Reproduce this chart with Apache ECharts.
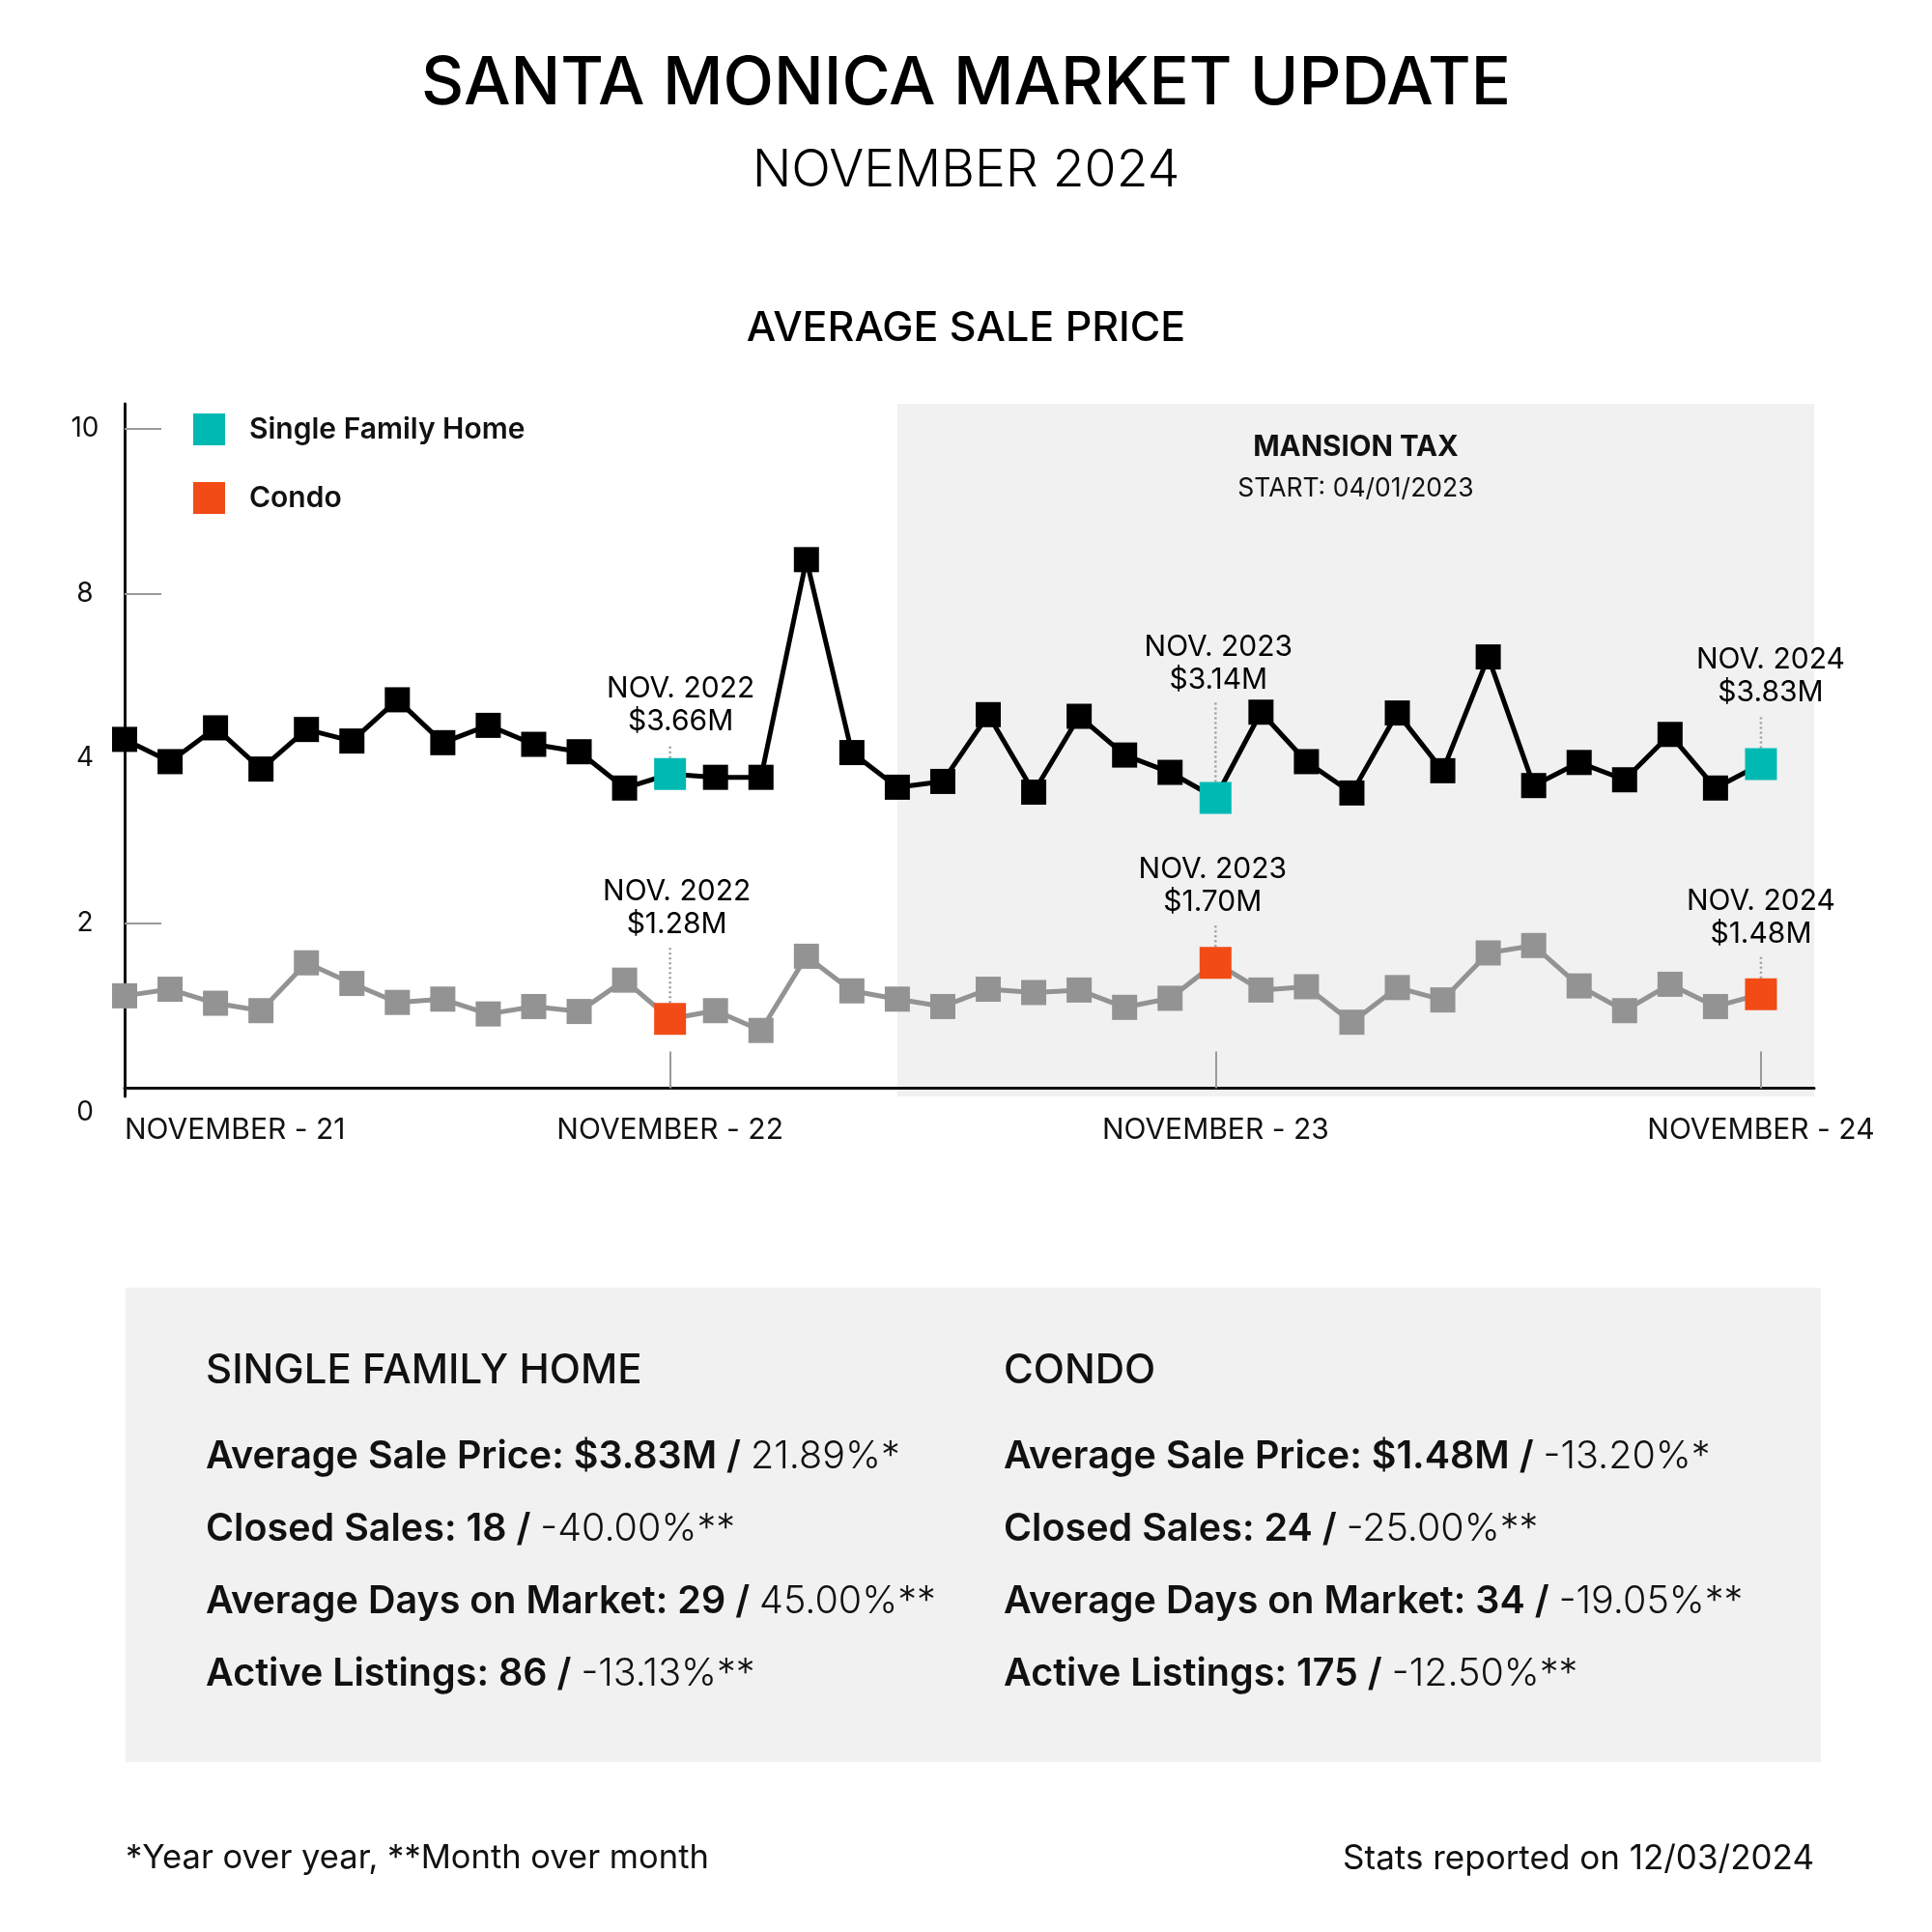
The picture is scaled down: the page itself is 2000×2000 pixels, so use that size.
<!DOCTYPE html>
<html>
<head>
<meta charset="utf-8">
<script src="https://cdn.jsdelivr.net/npm/echarts@6/dist/echarts.min.js"></script>
<style>html,body{margin:0;padding:0;background:#fff}#c{width:2000px;height:2000px}</style>
</head>
<body>
<div id="c"></div>
<script>
// ---------- DATA ----------
const months = ['Nov 21','Dec 21','Jan 22','Feb 22','Mar 22','Apr 22','May 22','Jun 22','Jul 22','Aug 22','Sep 22','Oct 22',
  'Nov 22','Dec 22','Jan 23','Feb 23','Mar 23','Apr 23','May 23','Jun 23','Jul 23','Aug 23','Sep 23','Oct 23',
  'Nov 23','Dec 23','Jan 24','Feb 24','Mar 24','Apr 24','May 24','Jun 24','Jul 24','Aug 24','Sep 24','Oct 24','Nov 24'];
// values as plotted (millions)
const sfhPrice = [4.23,3.96,4.37,3.87,4.35,4.21,4.71,4.19,4.40,4.17,4.08,3.64,3.81,3.77,3.77,6.41,4.07,3.65,3.72,4.53,3.59,4.51,4.04,3.83,3.52,4.56,3.96,3.58,4.55,3.85,5.23,3.67,3.95,3.74,4.29,3.64,3.93];
const condoPrice = [1.12,1.20,1.03,0.94,1.52,1.27,1.04,1.08,0.90,0.99,0.93,1.31,0.84,0.94,0.70,1.60,1.18,1.08,0.99,1.20,1.16,1.19,0.98,1.09,1.52,1.19,1.23,0.80,1.22,1.07,1.64,1.73,1.24,0.94,1.26,0.99,1.14];
const xTickIndex = [0, 12, 24, 36];
const xTickLabels = ['NOVEMBER - 21', 'NOVEMBER - 22', 'NOVEMBER - 23', 'NOVEMBER - 24'];
const yTickValues = [0, 2, 4, 6, 8];
const yTickLabels = ['0', '2', '4', '8', '10'];
const yTickMarks = [2, 6, 8];
const novIdx = [12, 24, 36];
const novNames = ['NOV. 2022', 'NOV. 2023', 'NOV. 2024'];
const sfhNovText = ['$3.66M', '$3.14M', '$3.83M'];
const condoNovText = ['$1.28M', '$1.70M', '$1.48M'];
const mansionTaxStart = months.indexOf('Apr 23');
const sfhStats = [['Average Sale Price: $3.83M', '21.89%*'], ['Closed Sales: 18', '-40.00%**'], ['Average Days on Market: 29', '45.00%**'], ['Active Listings: 86', '-13.13%**']];
const condoStats = [['Average Sale Price: $1.48M', '-13.20%*'], ['Closed Sales: 24', '-25.00%**'], ['Average Days on Market: 34', '-19.05%**'], ['Active Listings: 175', '-12.50%**']];

// ---------- LAYOUT ----------
const FONT = 'Inter';
const INK = '#111111';
const TEAL = '#00b9b3';
const ORANGE = '#f24b16';
const GREY = '#939393';
const SHADE = '#f0f1f0';
const xMax = 37.17;
const sfhLift = [10, 78, 30];
const condoLift = [53, 18, 18];
const sfhShift = [11, 3, 10];
const condoShift = [7, -3, 0];

const chart = echarts.init(document.getElementById('c'), null, {renderer: 'canvas'});

function annotSeries(name, color, values, texts, lifts, shifts) {
  return {
    type: 'scatter', name: name, z: 6,
    symbol: 'rect', symbolSize: 33,
    itemStyle: {color: color, opacity: 1},
    data: novIdx.map((i, k) => ({
      value: [i, values[i]],
      label: {padding: [0, Math.max(0, -shifts[k] * 2), 6, Math.max(0, shifts[k] * 2)]}
    })),
    label: {
      show: true, position: 'top',
      formatter: p => novNames[p.dataIndex] + '\n' + texts[p.dataIndex],
      fontFamily: FONT, fontSize: 30, lineHeight: 34, color: '#000',
      backgroundColor: 'rgba(0,0,0,0)', padding: [0, 0, 6, 0]
    },
    labelLayout: p => ({dy: -lifts[p.dataIndex]}),
    labelLine: {show: true, length2: 0, lineStyle: {color: '#9c9c9c', width: 2.5, type: [2, 3], opacity: 1}}
  };
}

const statRows = (col, x) => col.map((r, k) => ({
  type: 'text', x: x, y: 1508 + k * 75,
  style: {
    text: '{b|' + r[0] + ' / }{l|' + r[1] + '}',
    verticalAlign: 'middle', align: 'left',
    rich: {
      b: {fontFamily: FONT, fontSize: 39.5, fontWeight: 600, fill: INK},
      l: {fontFamily: FONT, fontSize: 39.5, fontWeight: 300, fill: INK}
    }
  }
}));

const option = {
  backgroundColor: '#ffffff',
  animation: false,
  textStyle: {fontFamily: FONT},
  grid: {left: 129, right: 122, top: 418, bottom: 865, outerBoundsMode: 'none'},
  legend: {
    orient: 'vertical', left: 200, top: 428, padding: 0, itemWidth: 33, itemHeight: 33, itemGap: 38,
    selectedMode: false, icon: 'rect',
    data: ['Single Family Home', 'Condo'],
    textStyle: {fontFamily: FONT, fontSize: 30, fontWeight: 600, color: INK, padding: [0, 0, 0, 20]}
  },
  xAxis: {
    type: 'value', min: 0, max: xMax, z: 4,
    splitLine: {show: false},
    axisLine: {show: true, lineStyle: {color: INK, width: 3}},
    axisTick: {show: true, customValues: xTickIndex.slice(1), inside: true, length: 38, lineStyle: {color: '#9a9a9a', width: 2}},
    axisLabel: {
      customValues: xTickIndex, alignMinLabel: 'left', margin: 20,
      formatter: v => xTickLabels[xTickIndex.indexOf(v)] || '',
      fontFamily: FONT, fontSize: 30, color: INK
    }
  },
  yAxis: {
    type: 'value', min: -0.1, max: 8.3,
    splitLine: {show: false},
    axisLine: {show: true, lineStyle: {color: INK, width: 3}},
    axisTick: {show: true, customValues: yTickMarks, inside: true, length: 38, lineStyle: {color: '#9a9a9a', width: 2}},
    axisLabel: {
      customValues: yTickValues, align: 'center', margin: 41,
      formatter: v => {
        const t = yTickLabels[yTickValues.indexOf(v)] || '';
        return v === 0 ? '{z|' + t + '}' : t;
      },
      fontFamily: FONT, fontSize: 28, color: INK,
      rich: {z: {fontFamily: FONT, fontSize: 28, color: INK, padding: [50, 0, 0, 0]}}
    }
  },
  series: [
    {
      type: 'line', name: 'SFH trend', z: 3,
      data: sfhPrice.map((v, i) => [i, v]),
      symbol: 'rect', symbolSize: 26,
      itemStyle: {color: '#000'}, lineStyle: {color: '#000', width: 5},
      markArea: {
        silent: true,
        itemStyle: {color: SHADE},
        label: {
          show: true, position: 'insideTop', distance: 24,
          formatter: '{a|MANSION TAX}\n{b|START: 04/01/2023}',
          rich: {
            a: {fontFamily: FONT, fontSize: 29.5, fontWeight: 700, color: INK, lineHeight: 43, align: 'center'},
            b: {fontFamily: FONT, fontSize: 26.5, fontWeight: 400, color: INK, lineHeight: 43, align: 'center'}
          }
        },
        data: [[{xAxis: mansionTaxStart}, {xAxis: xMax}]]
      }
    },
    {
      type: 'line', name: 'Condo trend', z: 3,
      data: condoPrice.map((v, i) => [i, v]),
      symbol: 'rect', symbolSize: 26,
      itemStyle: {color: GREY}, lineStyle: {color: GREY, width: 5}
    },
    annotSeries('Single Family Home', TEAL, sfhPrice, sfhNovText, sfhLift, sfhShift),
    annotSeries('Condo', ORANGE, condoPrice, condoNovText, condoLift, condoShift)
  ],
  graphic: [
    {type: 'text', x: 1000, y: 87, style: {text: 'SANTA MONICA MARKET UPDATE', fontFamily: FONT, fontSize: 68.5, fontWeight: 500, fill: '#000', align: 'center', verticalAlign: 'middle'}},
    {type: 'text', x: 1000, y: 177, style: {text: 'NOVEMBER 2024', fontFamily: FONT, fontSize: 53.5, fontWeight: 300, fill: '#000', align: 'center', verticalAlign: 'middle'}},
    {type: 'text', x: 1000, y: 340, style: {text: 'AVERAGE SALE PRICE', fontFamily: FONT, fontSize: 43, fontWeight: 500, fill: '#000', align: 'center', verticalAlign: 'middle'}},
    {type: 'rect', shape: {x: 130, y: 1333, width: 1755, height: 491}, style: {fill: SHADE}, z: -1},
    {type: 'text', x: 213, y: 1419, style: {text: 'SINGLE FAMILY HOME', fontFamily: FONT, fontSize: 42, fontWeight: 500, fill: INK, align: 'left', verticalAlign: 'middle'}},
    {type: 'text', x: 1039, y: 1419, style: {text: 'CONDO', fontFamily: FONT, fontSize: 42, fontWeight: 500, fill: INK, align: 'left', verticalAlign: 'middle'}},
    ...statRows(sfhStats, 213),
    ...statRows(condoStats, 1039),
    {type: 'text', x: 130, y: 1924, style: {text: '*Year over year, **Month over month', fontFamily: FONT, fontSize: 34.5, fontWeight: 400, fill: INK, align: 'left', verticalAlign: 'middle'}},
    {type: 'text', x: 1878, y: 1924, style: {text: 'Stats reported on 12/03/2024', fontFamily: FONT, fontSize: 35, fontWeight: 400, fill: INK, align: 'right', verticalAlign: 'middle'}}
  ]
};
chart.setOption(option);
</script>
</body>
</html>
